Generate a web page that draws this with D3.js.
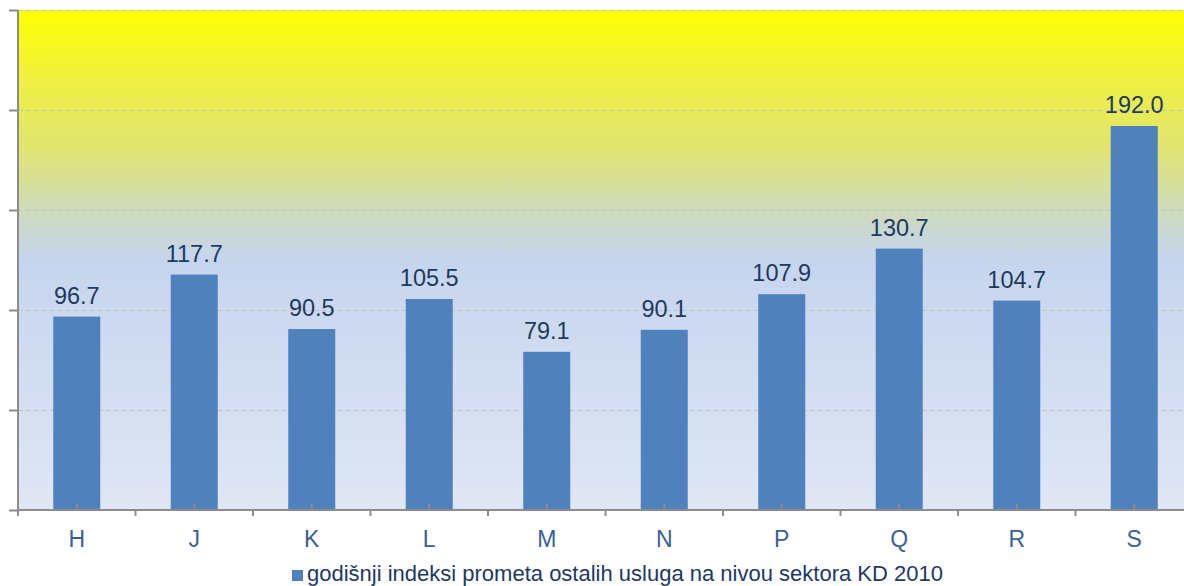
<!DOCTYPE html>
<html>
<head>
<meta charset="utf-8">
<script src="https://cdn.jsdelivr.net/npm/d3@7"></script>
<style>
  body { margin: 0; background: #fff; }
  svg { display: block; font-family: "Liberation Sans", Arial, sans-serif; }
</style>
</head>
<body>
<div id="chart"></div>
<script>
// data
var categories = ["H", "J", "K", "L", "M", "N", "P", "Q", "R", "S"];
var values = [96.7, 117.7, 90.5, 105.5, 79.1, 90.1, 107.9, 130.7, 104.7, 192.0];
var yTicks = [0, 50, 100, 150, 200, 250];
var legendLabel = "godišnji indeksi prometa ostalih usluga na nivou sektora KD 2010";

var W = 1184, H = 586;
var margin = {top: 10, left: 18, bottom: 76};
var plotRight = 1193;   // plot runs off the right edge in the original
var height = H - margin.top - margin.bottom;

var svg = d3.select("#chart")
  .append("svg")
    .attr("width", W)
    .attr("height", H);

// background gradient
var grad = svg.append("defs").append("linearGradient")
    .attr("id", "bg")
    .attr("x1", 0).attr("y1", 0).attr("x2", 0).attr("y2", 1);
grad.append("stop").attr("offset", "0%").attr("stop-color", "#ffff00");
grad.append("stop").attr("offset", "14%").attr("stop-color", "#eff040");
grad.append("stop").attr("offset", "28%").attr("stop-color", "#e0e472");
grad.append("stop").attr("offset", "38%").attr("stop-color", "#d2ddb0");
grad.append("stop").attr("offset", "44%").attr("stop-color", "#cad8d2");
grad.append("stop").attr("offset", "50%").attr("stop-color", "#c6d5ee");
grad.append("stop").attr("offset", "100%").attr("stop-color", "#e0e6f4");

var x = d3.scaleBand()
  .domain(categories)
  .range([margin.left, plotRight]);

var y = d3.scaleLinear()
  .domain([0, 250])
  .range([margin.top + height, margin.top]);

svg.append("rect")
  .attr("x", margin.left)
  .attr("y", y(250))
  .attr("width", plotRight - margin.left)
  .attr("height", y(0) - y(250))
  .attr("fill", "url(#bg)");

// gridlines
svg.append("g")
  .selectAll("line")
  .data(yTicks.filter(function(d){ return d > 0; }))
  .enter().append("line")
    .attr("x1", margin.left)
    .attr("x2", plotRight)
    .attr("y1", function(d){ return y(d) + 0.5; })
    .attr("y2", function(d){ return y(d) + 0.5; })
    .style("stroke", "#c4c4c4")
    .style("stroke-width", 1)
    .style("stroke-dasharray", "5,3");

// bars
var barW = x.bandwidth() * 0.4;
svg.append("g")
  .selectAll("rect")
  .data(values)
  .enter().append("rect")
    .attr("x", function(d, i){ return x(categories[i]) + (x.bandwidth() - barW) / 2; })
    .attr("y", function(d){ return y(d); })
    .attr("width", barW)
    .attr("height", function(d){ return y(0) - y(d); })
    .style("fill", "#4f81bd");

// value labels
svg.append("g")
  .selectAll("text")
  .data(values)
  .enter().append("text")
    .attr("x", function(d, i){ return x(categories[i]) + x.bandwidth() / 2; })
    .attr("y", function(d){ return y(d) - 13; })
    .attr("text-anchor", "middle")
    .style("font-size", "23.5px")
    .style("fill", "#1f3a5f")
    .text(function(d){ return d.toFixed(1); });

// y axis
var yAxis = svg.append("g")
  .attr("transform", "translate(" + margin.left + ",0)")
  .call(d3.axisLeft(y).tickValues(yTicks).tickSize(9).tickFormat(""));
yAxis.select(".domain").remove();
yAxis.selectAll(".tick line").style("stroke", "#8c8c8c").style("stroke-width", 2);
svg.append("line")
  .attr("x1", margin.left).attr("x2", margin.left)
  .attr("y1", y(250)).attr("y2", y(0) + 6)
  .style("stroke", "#8c8c8c").style("stroke-width", 2);

// x axis
var xAxis = svg.append("g")
  .attr("transform", "translate(0," + y(0) + ")")
  .call(d3.axisBottom(x).tickSize(0));
xAxis.select(".domain").remove();
xAxis.selectAll(".tick text")
  .attr("dy", null)
  .attr("y", 37)
  .style("font-size", "23px")
  .style("font-family", "Liberation Sans, Arial, sans-serif")
  .style("fill", "#3b6096");
// small upward ticks at band centres
xAxis.selectAll(".tick").append("line")
  .attr("y1", 0).attr("y2", -6)
  .style("stroke", "#8c8c8c").style("stroke-width", 2);
// boundary ticks
svg.append("g")
  .selectAll("line")
  .data(categories)
  .enter().append("line")
    .attr("x1", function(d){ return x(d); })
    .attr("x2", function(d){ return x(d); })
    .attr("y1", y(0))
    .attr("y2", y(0) + 6)
    .style("stroke", "#8c8c8c").style("stroke-width", 2);
svg.append("line")
  .attr("x1", margin.left).attr("x2", plotRight)
  .attr("y1", y(0)).attr("y2", y(0))
  .style("stroke", "#8c8c8c").style("stroke-width", 2);

// legend
var legend = svg.append("g").attr("transform", "translate(292,581)");
legend.append("rect")
  .attr("x", 0).attr("y", -11)
  .attr("width", 11).attr("height", 11)
  .style("fill", "#4f81bd");
legend.append("text")
  .attr("x", 15).attr("y", 0)
  .style("font-size", "22px")
  .style("fill", "#1f3864")
  .text(legendLabel);
</script>
</body>
</html>
